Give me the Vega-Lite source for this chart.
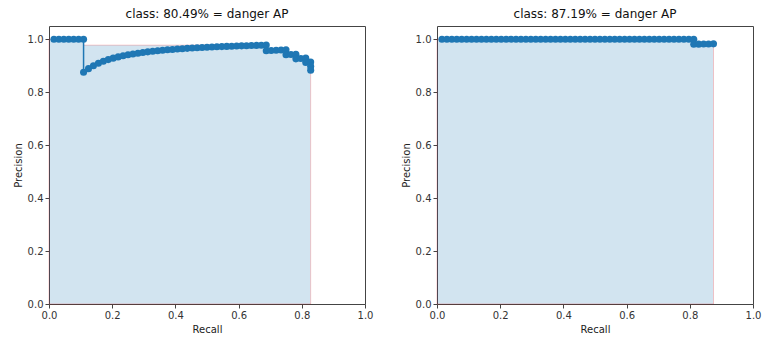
{
  "$schema": "https://vega.github.io/schema/vega-lite/v6.json",
  "background": "white",
  "padding": {"left": 12, "top": 7, "right": 5, "bottom": 5},
  "spacing": 26,
  "config": {
    "font": "DejaVu Sans",
    "view": {"stroke": "#444", "strokeWidth": 1},
    "axis": {
      "grid": false,
      "domain": false,
      "labelFlush": false,
      "tickColor": "#444",
      "tickSize": 4,
      "labelFontSize": 10,
      "labelColor": "#333",
      "labelFont": "DejaVu Sans",
      "titleFontSize": 10,
      "titleFontWeight": "normal",
      "titleColor": "#222",
      "titleFont": "DejaVu Sans",
      "labelPadding": 2
    },
    "title": {"fontSize": 12, "fontWeight": "normal", "font": "DejaVu Sans", "color": "#111", "offset": 5}
  },
  "datasets": {
    "left_pts": [
      {"i": 1, "recall": 0.0156, "precision": 1.0},
      {"i": 2, "recall": 0.0313, "precision": 1.0},
      {"i": 3, "recall": 0.0469, "precision": 1.0},
      {"i": 4, "recall": 0.0625, "precision": 1.0},
      {"i": 5, "recall": 0.0781, "precision": 1.0},
      {"i": 6, "recall": 0.0938, "precision": 1.0},
      {"i": 7, "recall": 0.1094, "precision": 1.0},
      {"i": 8, "recall": 0.1094, "precision": 0.875},
      {"i": 9, "recall": 0.125, "precision": 0.8889},
      {"i": 10, "recall": 0.1406, "precision": 0.9},
      {"i": 11, "recall": 0.1563, "precision": 0.9091},
      {"i": 12, "recall": 0.1719, "precision": 0.9167},
      {"i": 13, "recall": 0.1875, "precision": 0.9231},
      {"i": 14, "recall": 0.2031, "precision": 0.9286},
      {"i": 15, "recall": 0.2188, "precision": 0.9333},
      {"i": 16, "recall": 0.2344, "precision": 0.9375},
      {"i": 17, "recall": 0.25, "precision": 0.9412},
      {"i": 18, "recall": 0.2656, "precision": 0.9444},
      {"i": 19, "recall": 0.2813, "precision": 0.9474},
      {"i": 20, "recall": 0.2969, "precision": 0.95},
      {"i": 21, "recall": 0.3125, "precision": 0.9524},
      {"i": 22, "recall": 0.3281, "precision": 0.9545},
      {"i": 23, "recall": 0.3438, "precision": 0.9565},
      {"i": 24, "recall": 0.3594, "precision": 0.9583},
      {"i": 25, "recall": 0.375, "precision": 0.96},
      {"i": 26, "recall": 0.3906, "precision": 0.9615},
      {"i": 27, "recall": 0.4063, "precision": 0.963},
      {"i": 28, "recall": 0.4219, "precision": 0.9643},
      {"i": 29, "recall": 0.4375, "precision": 0.9655},
      {"i": 30, "recall": 0.4531, "precision": 0.9667},
      {"i": 31, "recall": 0.4688, "precision": 0.9677},
      {"i": 32, "recall": 0.4844, "precision": 0.9688},
      {"i": 33, "recall": 0.5, "precision": 0.9697},
      {"i": 34, "recall": 0.5156, "precision": 0.9706},
      {"i": 35, "recall": 0.5313, "precision": 0.9714},
      {"i": 36, "recall": 0.5469, "precision": 0.9722},
      {"i": 37, "recall": 0.5625, "precision": 0.973},
      {"i": 38, "recall": 0.5781, "precision": 0.9737},
      {"i": 39, "recall": 0.5938, "precision": 0.9744},
      {"i": 40, "recall": 0.6094, "precision": 0.975},
      {"i": 41, "recall": 0.625, "precision": 0.9756},
      {"i": 42, "recall": 0.6406, "precision": 0.9762},
      {"i": 43, "recall": 0.6563, "precision": 0.9767},
      {"i": 44, "recall": 0.6719, "precision": 0.9773},
      {"i": 45, "recall": 0.6875, "precision": 0.9778},
      {"i": 46, "recall": 0.6875, "precision": 0.9565},
      {"i": 47, "recall": 0.7031, "precision": 0.9574},
      {"i": 48, "recall": 0.7188, "precision": 0.9583},
      {"i": 49, "recall": 0.7344, "precision": 0.9592},
      {"i": 50, "recall": 0.75, "precision": 0.96},
      {"i": 51, "recall": 0.75, "precision": 0.9412},
      {"i": 52, "recall": 0.7656, "precision": 0.9423},
      {"i": 53, "recall": 0.7813, "precision": 0.9434},
      {"i": 54, "recall": 0.7813, "precision": 0.9259},
      {"i": 55, "recall": 0.7969, "precision": 0.9273},
      {"i": 56, "recall": 0.8125, "precision": 0.9286},
      {"i": 57, "recall": 0.8125, "precision": 0.9123},
      {"i": 58, "recall": 0.8281, "precision": 0.9138},
      {"i": 59, "recall": 0.8281, "precision": 0.8983},
      {"i": 60, "recall": 0.8281, "precision": 0.8833}
    ],
    "left_env": [
      {"recall": 0.0, "precision": 1.0},
      {"recall": 0.1094, "precision": 0.9778},
      {"recall": 0.6875, "precision": 0.96},
      {"recall": 0.75, "precision": 0.9434},
      {"recall": 0.7813, "precision": 0.9286},
      {"recall": 0.8125, "precision": 0.9138},
      {"recall": 0.8281, "precision": 0.9138}
    ],
    "right_pts": [
      {"i": 1, "recall": 0.0156, "precision": 1.0},
      {"i": 2, "recall": 0.0313, "precision": 1.0},
      {"i": 3, "recall": 0.0469, "precision": 1.0},
      {"i": 4, "recall": 0.0625, "precision": 1.0},
      {"i": 5, "recall": 0.0781, "precision": 1.0},
      {"i": 6, "recall": 0.0938, "precision": 1.0},
      {"i": 7, "recall": 0.1094, "precision": 1.0},
      {"i": 8, "recall": 0.125, "precision": 1.0},
      {"i": 9, "recall": 0.1406, "precision": 1.0},
      {"i": 10, "recall": 0.1563, "precision": 1.0},
      {"i": 11, "recall": 0.1719, "precision": 1.0},
      {"i": 12, "recall": 0.1875, "precision": 1.0},
      {"i": 13, "recall": 0.2031, "precision": 1.0},
      {"i": 14, "recall": 0.2188, "precision": 1.0},
      {"i": 15, "recall": 0.2344, "precision": 1.0},
      {"i": 16, "recall": 0.25, "precision": 1.0},
      {"i": 17, "recall": 0.2656, "precision": 1.0},
      {"i": 18, "recall": 0.2813, "precision": 1.0},
      {"i": 19, "recall": 0.2969, "precision": 1.0},
      {"i": 20, "recall": 0.3125, "precision": 1.0},
      {"i": 21, "recall": 0.3281, "precision": 1.0},
      {"i": 22, "recall": 0.3438, "precision": 1.0},
      {"i": 23, "recall": 0.3594, "precision": 1.0},
      {"i": 24, "recall": 0.375, "precision": 1.0},
      {"i": 25, "recall": 0.3906, "precision": 1.0},
      {"i": 26, "recall": 0.4063, "precision": 1.0},
      {"i": 27, "recall": 0.4219, "precision": 1.0},
      {"i": 28, "recall": 0.4375, "precision": 1.0},
      {"i": 29, "recall": 0.4531, "precision": 1.0},
      {"i": 30, "recall": 0.4688, "precision": 1.0},
      {"i": 31, "recall": 0.4844, "precision": 1.0},
      {"i": 32, "recall": 0.5, "precision": 1.0},
      {"i": 33, "recall": 0.5156, "precision": 1.0},
      {"i": 34, "recall": 0.5313, "precision": 1.0},
      {"i": 35, "recall": 0.5469, "precision": 1.0},
      {"i": 36, "recall": 0.5625, "precision": 1.0},
      {"i": 37, "recall": 0.5781, "precision": 1.0},
      {"i": 38, "recall": 0.5938, "precision": 1.0},
      {"i": 39, "recall": 0.6094, "precision": 1.0},
      {"i": 40, "recall": 0.625, "precision": 1.0},
      {"i": 41, "recall": 0.6406, "precision": 1.0},
      {"i": 42, "recall": 0.6563, "precision": 1.0},
      {"i": 43, "recall": 0.6719, "precision": 1.0},
      {"i": 44, "recall": 0.6875, "precision": 1.0},
      {"i": 45, "recall": 0.7031, "precision": 1.0},
      {"i": 46, "recall": 0.7188, "precision": 1.0},
      {"i": 47, "recall": 0.7344, "precision": 1.0},
      {"i": 48, "recall": 0.75, "precision": 1.0},
      {"i": 49, "recall": 0.7656, "precision": 1.0},
      {"i": 50, "recall": 0.7813, "precision": 1.0},
      {"i": 51, "recall": 0.7969, "precision": 1.0},
      {"i": 52, "recall": 0.8125, "precision": 1.0},
      {"i": 53, "recall": 0.8125, "precision": 0.9811},
      {"i": 54, "recall": 0.8281, "precision": 0.9815},
      {"i": 55, "recall": 0.8438, "precision": 0.9818},
      {"i": 56, "recall": 0.8594, "precision": 0.9821},
      {"i": 57, "recall": 0.875, "precision": 0.9825}
    ],
    "right_env": [
      {"recall": 0.0, "precision": 1.0},
      {"recall": 0.8125, "precision": 0.9825},
      {"recall": 0.875, "precision": 0.9825}
    ]
  },
  "hconcat": [
    {
      "width": 316,
      "height": 278,
      "title": "class: 80.49% = danger AP",
      "layer": [
        {
          "data": {"name": "left_env"},
          "mark": {"type": "area", "interpolate": "step-after", "fill": "#1f77b4", "fillOpacity": 0.2, "stroke": "red", "strokeOpacity": 0.2, "strokeWidth": 1},
          "encoding": {
            "x": {"field": "recall", "type": "quantitative", "scale": {"domain": [0, 1], "nice": false}, "axis": {"title": "Recall", "values": [0, 0.2, 0.4, 0.6, 0.8, 1.0], "format": ".1f"}},
            "y": {"field": "precision", "type": "quantitative", "scale": {"domain": [0, 1.05], "nice": false, "zero": true}, "axis": {"title": "Precision", "values": [0, 0.2, 0.4, 0.6, 0.8, 1.0], "format": ".1f"}},
            "y2": {"datum": 0}
          }
        },
        {
          "data": {"name": "left_pts"},
          "mark": {"type": "line", "color": "#1f77b4", "strokeWidth": 1.5, "point": {"filled": true, "size": 50, "color": "#1f77b4", "opacity": 1}},
          "encoding": {
            "x": {"field": "recall", "type": "quantitative"},
            "y": {"field": "precision", "type": "quantitative"},
            "order": {"field": "i", "type": "quantitative"}
          }
        }
      ]
    },
    {
      "width": 316,
      "height": 278,
      "title": "class: 87.19% = danger AP",
      "layer": [
        {
          "data": {"name": "right_env"},
          "mark": {"type": "area", "interpolate": "step-after", "fill": "#1f77b4", "fillOpacity": 0.2, "stroke": "red", "strokeOpacity": 0.2, "strokeWidth": 1},
          "encoding": {
            "x": {"field": "recall", "type": "quantitative", "scale": {"domain": [0, 1], "nice": false}, "axis": {"title": "Recall", "values": [0, 0.2, 0.4, 0.6, 0.8, 1.0], "format": ".1f"}},
            "y": {"field": "precision", "type": "quantitative", "scale": {"domain": [0, 1.05], "nice": false, "zero": true}, "axis": {"title": "Precision", "values": [0, 0.2, 0.4, 0.6, 0.8, 1.0], "format": ".1f"}},
            "y2": {"datum": 0}
          }
        },
        {
          "data": {"name": "right_pts"},
          "mark": {"type": "line", "color": "#1f77b4", "strokeWidth": 1.5, "point": {"filled": true, "size": 50, "color": "#1f77b4", "opacity": 1}},
          "encoding": {
            "x": {"field": "recall", "type": "quantitative"},
            "y": {"field": "precision", "type": "quantitative"},
            "order": {"field": "i", "type": "quantitative"}
          }
        }
      ]
    }
  ]
}
